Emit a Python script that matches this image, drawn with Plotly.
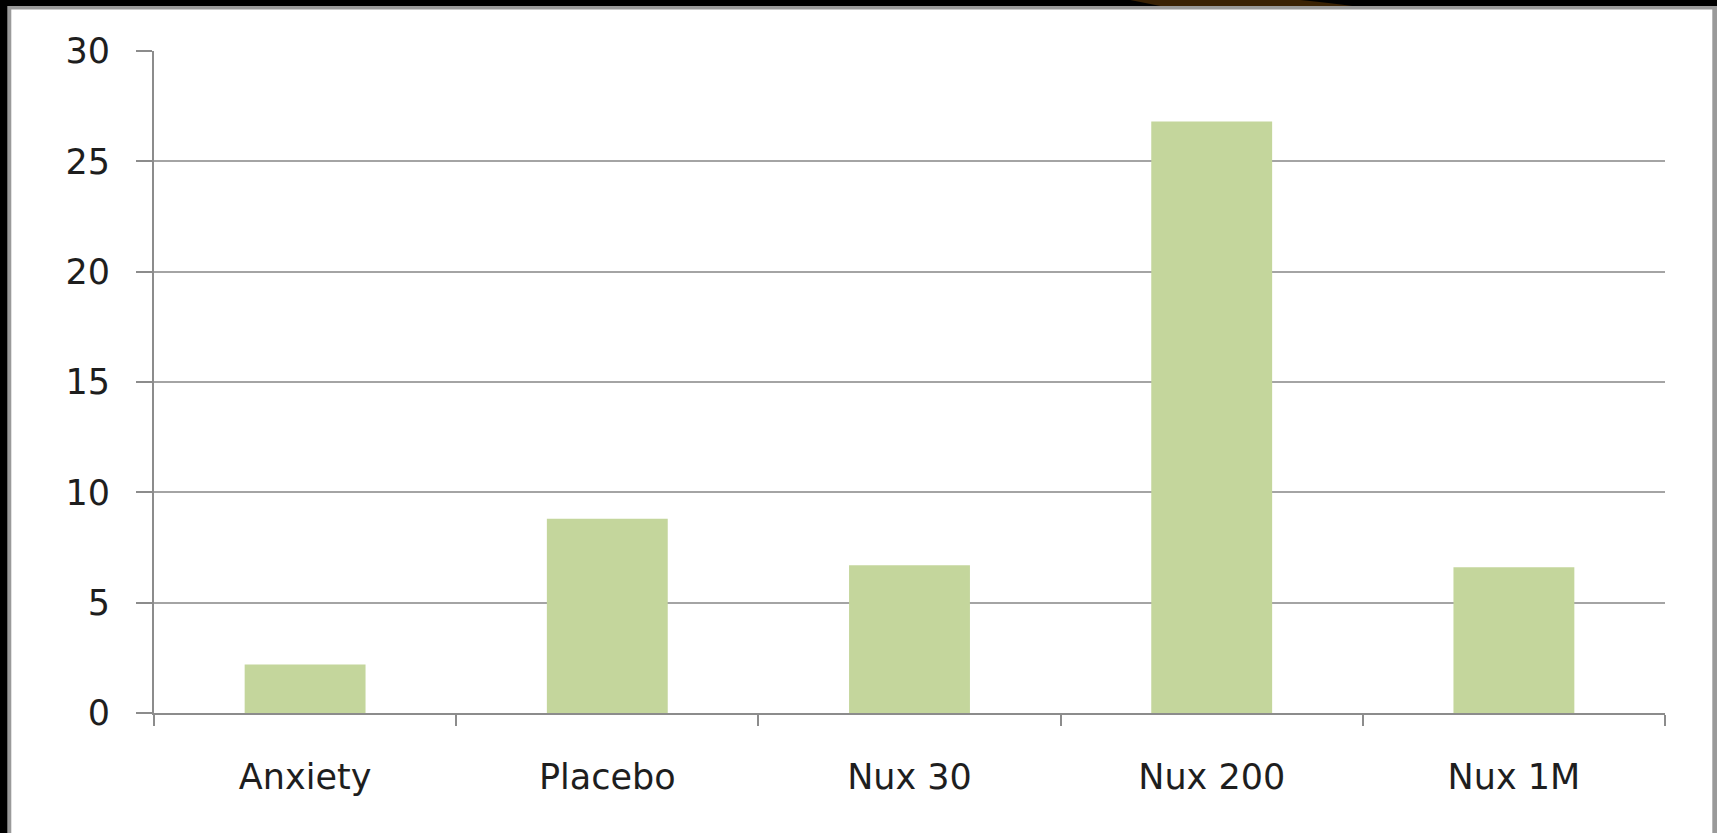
import plotly.graph_objects as go

# Chart data
categories = ["Anxiety", "Placebo", "Nux 30", "Nux 200", "Nux 1M"]
values = [2.2, 8.8, 6.7, 26.8, 6.6]
y_ticks = [0, 5, 10, 15, 20, 25, 30]

W, H = 1717, 833
L, R, T, B = 153.7, 52.3, 51, 119.7
PW, PH = W - L - R, H - T - B


def px(x):
    return (x - L) / PW


def py(y):
    return 1 - (y - T) / PH


fig = go.Figure(
    go.Bar(
        x=categories,
        y=values,
        marker=dict(color="#c4d69c", line=dict(width=0)),
        width=0.4,
    )
)

shapes = [
    # white slide body inside the dark frame
    dict(type="rect", xref="paper", yref="paper", layer="below",
         x0=px(7), x1=px(1717), y0=py(840), y1=py(6),
         fillcolor="#9a9a9a", line=dict(width=0)),
    dict(type="rect", xref="paper", yref="paper", layer="below",
         x0=px(11), x1=px(1712), y0=py(840), y1=py(9.5),
         fillcolor="white", line=dict(width=0)),
    # brown highlight along the top edge
    dict(type="path", xref="paper", yref="paper", layer="below",
         path=f"M {px(1130)},{py(0)} L {px(1300)},{py(0)} Q {px(1330)},{py(3)} {px(1352)},{py(6)} "
              f"L {px(1160)},{py(6)} Z",
         fillcolor="#3a2204", line=dict(width=0)),
]

fig.update_layout(
    width=W, height=H,
    margin=dict(l=L, r=R, t=T, b=B, pad=0),
    paper_bgcolor="black",
    plot_bgcolor="white",
    shapes=shapes,
    showlegend=False,
    bargap=0.6,
    font=dict(family="DejaVu Sans", size=35, color="#1e1e1e"),
    xaxis=dict(
        range=[-0.5, 4.5],
        showgrid=False,
        showline=True, linecolor="#8c8c8c", linewidth=2,
        ticks="outside", tickson="boundaries", ticklen=11, tickwidth=2, tickcolor="#8c8c8c",
        tickfont=dict(size=35),
        ticklabelstandoff=32,
    ),
    yaxis=dict(
        range=[0, 30],
        tickvals=y_ticks,
        showgrid=True, gridcolor="#a4a4a4", gridwidth=2,
        zeroline=False,
        showline=True, linecolor="#8c8c8c", linewidth=2,
        ticks="outside", ticklen=16, tickwidth=2, tickcolor="#8c8c8c",
        tickfont=dict(size=35),
        ticklabelstandoff=19,
    ),
)

fig.write_html("out.html")
